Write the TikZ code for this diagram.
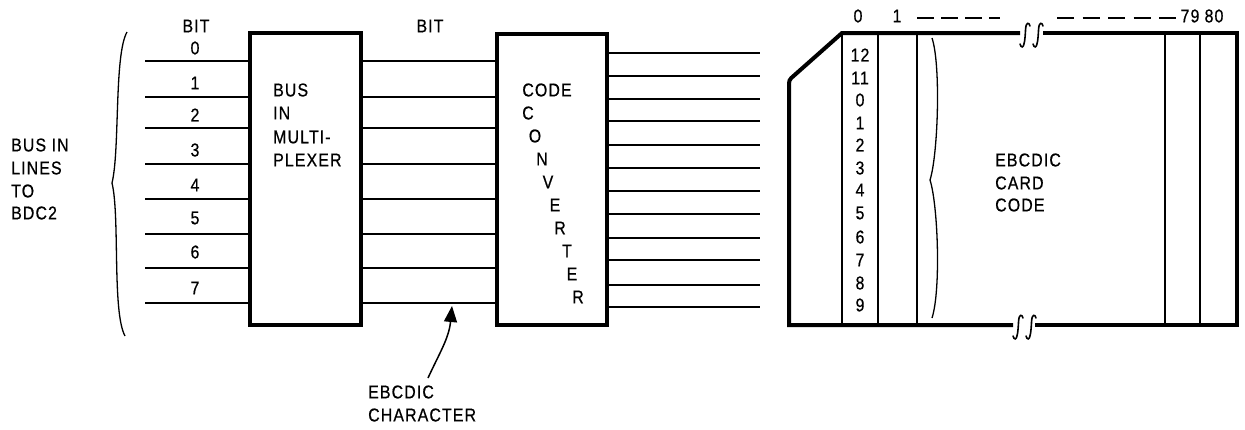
\documentclass[tikz,border=0pt]{standalone}
\usepackage{fontspec}
\setmainfont{Liberation Sans}[FakeStretch=0.86,FakeBold=0.6,LetterSpace=6]
\usetikzlibrary{arrows.meta}
\begin{document}
\begin{tikzpicture}[x=1pt,y=-1pt,
  font=\fontsize{18.5}{22}\selectfont,
  wire/.style={line width=1.4pt},
  blockbox/.style={draw,line width=4pt,inner sep=0pt,outer sep=0pt},
  lbl/.style={inner sep=0pt},
  lleft/.style={inner sep=0pt,anchor=west},
  cardedge/.style={line width=4pt,line join=miter},
  cardline/.style={line width=1.4pt},
  brk/.pic={\draw[line width=1.6pt,line cap=round] (5,-9) .. controls (4,-13) and (1,-13) .. (0.6,-6) .. controls (0.2,1) and (-0.2,6) .. (-0.8,8) .. controls (-1.4,13) and (-4,13) .. (-5,9);}]
\useasboundingbox (0,0) rectangle (1245,429);

% left brace and label
\draw[line width=1.3pt] (127,32) .. controls (114,55) and (120,150) .. (112,183)
  .. controls (120,216) and (112,312) .. (125,336);
\node[lleft] (t1) at (11,145) {BUS IN};
\node[lleft] (t2) at (11,168) {LINES};
\node[lleft] (t3) at (11,191) {TO};
\node[lleft] (t4) at (11,213) {BDC2};

% blocks
\node[blockbox,minimum width=111pt,minimum height=292pt] (mux) at (305.5,179) {};
\node[blockbox,minimum width=110pt,minimum height=291pt] (conv) at (552,179.5) {};

\node[lbl] (bit1) at (196,26) {BIT};
\node[lbl] (bit2) at (430,26) {BIT};

% input wires with bit numbers, and wires between blocks
\foreach \y/\d/\ly [count=\i] in {61/0/48,97/1/83,128/2/115,164/3/150,199/4/185,234/5/218,268/6/252,303/7/288}{
  \coordinate (in\i) at (145,\y);
  \draw[wire] (in\i) -- (in\i -| mux.west);
  \draw[wire] (in\i -| mux.east) -- (in\i -| conv.west);
  \node[lbl] (d\i) at (195,\ly) {\d};
}

% mux text
\node[lleft] (m1) at (273,90) {BUS};
\node[lleft] (m2) at (273,113) {IN};
\node[lleft] (m3) at (273,137) {MULTI-};
\node[lleft] (m4) at (273,160) {PLEXER};

% converter text
\node[lbl] (c0) at (547,90) {CODE};
\foreach \ch/\x/\y [count=\i] in {C/528/113,O/535/136,N/542/159,V/548/182,E/555/205,R/560/228,T/567/251,E/572/274,R/578/297}{
  \node[lbl] (cc\i) at (\x,\y) {\ch};
}

% output wires
\foreach \y [count=\i] in {53,76,99,121,145,168,191,214,238,260,285,307}{
  \coordinate (out\i) at (760,\y);
  \draw[wire] (out\i -| conv.east) -- (out\i);
}

% EBCDIC character label and arrow
\node[lleft] (ec1) at (368,392) {EBCDIC};
\node[lleft] (ec2) at (368,415) {CHARACTER};
\coordinate (arrS) at (428,378);
\coordinate (arrE) at (452,306);
\draw[line width=1.5pt,-{Triangle[length=16pt,width=13pt]}] (arrS) .. controls (440,352) and (449,338) .. (arrE);

% card
\draw[cardedge] (1020,33) -- (842,33) [rounded corners=3pt] -- (789,80) [sharp corners] -- (789,325) -- (1013,325);
\draw[cardedge] (1035,325) -- (1237,325) -- (1237,33) -- (1043,33);
\foreach \x in {842,878,917,1165,1200}{
  \draw[cardline] (\x,33) -- (\x,325);
}
\pic at (1025,35) {brk};
\pic at (1038,35) {brk};
\pic at (1018,327) {brk};
\pic at (1031,327) {brk};

% wavy break line
\draw[line width=1.3pt] (932,38) .. controls (941,65) and (938,155) .. (930,180)
  .. controls (938,205) and (941,290) .. (932,318);

% column numbers
\node[lbl] (k0) at (858,16) {0};
\node[lbl] (k1) at (897,16) {1};
\node[lbl] (k79) at (1190,16) {79};
\node[lbl] (k80) at (1214,16) {80};
\draw[line width=1.6pt,dash pattern=on 17pt off 7pt] (917,18) -- (1000,18);
\draw[line width=1.6pt,dash pattern=on 17pt off 8.5pt] (1057,18) -- (1176,18);

% row numbers
\foreach \r/\y [count=\i] in {12/55,11/78,0/100,1/123,2/145,3/168,4/190,5/213,6/237,7/260,8/283,9/305}{
  \node[lbl] (r\i) at (860,\y) {\r};
}

% card text
\node[lleft] (e1) at (995,160) {EBCDIC};
\node[lleft] (e2) at (995,183) {CARD};
\node[lleft] (e3) at (995,205) {CODE};
\end{tikzpicture}
\end{document}
